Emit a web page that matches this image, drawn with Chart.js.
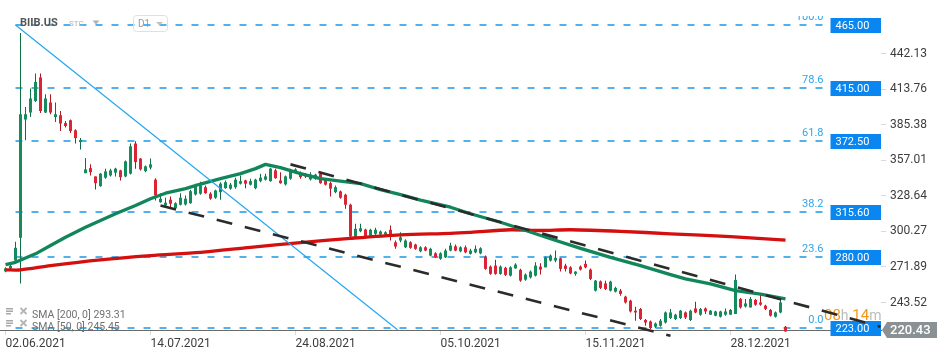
<!DOCTYPE html>
<html><head><meta charset="utf-8">
<script src="https://cdn.jsdelivr.net/npm/chart.js@4.4.1/dist/chart.umd.min.js"></script>
<style>html,body{margin:0;padding:0;background:#fff;}canvas{display:block;}</style>
</head><body>
<canvas id="c" width="950" height="361"></canvas>
<script>
// ---- data (BIIB.US, D1) ----
const openV = [268.4,270.6,277.0,295.2,389.6,395.2,404.4,423.2,395.2,403.2,
391.6,393.0,386.8,389.0,381.0,371.6,346.8,350.8,344.2,336.4,
343.2,345.0,347.2,349.0,344.2,346.4,370.4,358.4,348.4,351.2,
341.6,323.6,321.0,325.6,318.8,321.6,321.8,322.8,329.8,330.4,
335.6,330.4,327.2,331.6,334.8,334.4,335.6,338.4,341.0,337.6,
334.8,340.4,341.6,340.4,349.0,341.0,337.8,342.4,347.2,347.2,
345.6,341.8,342.4,346.4,342.4,338.8,331.6,332.2,329.6,321.6,
295.6,300.4,301.8,297.0,298.4,297.8,297.6,301.6,291.6,293.0,
287.6,291.6,289.8,284.4,287.6,281.0,282.8,278.4,279.6,285.0,
288.4,284.4,287.6,282.4,283.6,282.8,280.2,272.2,273.0,266.4,
271.2,265.0,270.8,269.6,261.8,263.6,265.0,272.2,271.6,277.0,
277.0,278.8,273.0,271.6,266.4,272.2,274.4,269.8,253.0,260.4,
258.8,253.0,252.2,253.0,248.2,245.0,237.0,238.4,229.6,228.4,
224.2,225.0,227.6,231.2,230.4,231.2,235.6,229.6,238.8,233.8,
238.8,233.8,233.0,232.2,233.8,233.8,234.4,246.4,240.4,239.6,
245.6,243.6,241.0,237.6,232.2,235.6,224.2];
const highV = [271.6,273.8,292.0,458.6,399.6,414.4,426.4,426.4,409.8,409.8,
403.2,396.4,388.4,389.6,381.8,374.8,358.8,353.8,344.2,347.0,
350.4,350.4,351.2,349.6,356.8,370.4,372.2,358.8,353.0,358.4,
342.8,330.8,327.2,328.2,323.6,330.8,329.0,333.6,338.4,340.0,
337.0,331.6,333.6,339.6,341.0,339.0,343.2,345.0,341.6,342.4,
342.4,346.4,346.4,351.2,350.4,347.6,345.0,350.4,350.8,348.2,
347.0,347.6,346.4,347.2,343.0,340.0,337.0,333.0,330.4,322.4,
306.4,306.4,302.4,302.4,303.2,301.0,300.4,305.0,293.0,299.6,
294.0,292.4,290.4,288.4,288.4,287.2,283.6,283.6,286.4,291.2,
289.8,288.4,289.0,286.4,289.0,287.6,281.0,273.0,277.6,273.0,
272.0,272.4,274.8,270.4,266.6,269.0,275.6,274.8,280.2,281.8,
285.0,279.2,274.4,272.4,268.4,273.0,277.0,270.6,261.6,261.2,
261.0,261.0,256.2,254.4,249.0,245.8,240.2,239.2,230.4,229.2,
227.6,230.4,236.4,238.4,234.6,237.6,236.4,237.8,244.2,239.2,
239.6,237.6,237.0,237.0,238.8,238.4,265.8,247.2,246.4,248.0,
246.4,249.6,241.8,238.4,236.4,245.6,224.8];
const lowV = [267.6,269.8,274.8,258.8,373.0,391.6,403.6,394.8,394.8,393.8,
387.6,380.4,383.2,378.8,370.4,365.6,346.8,345.0,333.8,336.0,
342.4,344.2,344.2,341.0,343.6,345.8,350.4,349.0,347.6,349.8,
325.0,323.2,319.6,318.8,318.4,321.0,321.0,322.4,329.0,329.5,
330.4,325.6,326.4,325.6,334.4,333.5,334.4,337.8,334.8,337.0,
334.0,339.6,341.0,340.0,342.4,338.4,337.0,341.6,346.4,342.4,
343.0,341.0,341.6,338.4,337.0,328.2,330.8,326.4,318.4,295.6,
295.0,299.6,295.0,296.4,297.0,297.0,297.0,293.0,286.4,291.6,
287.0,286.4,285.6,283.6,284.4,280.4,279.0,277.6,279.0,284.4,
284.4,283.6,282.8,281.8,282.8,282.0,269.6,265.6,265.6,265.6,
264.8,264.4,270.4,260.2,261.0,262.8,264.4,265.8,271.6,276.2,
275.6,268.2,268.2,266.0,265.0,269.0,270.8,261.6,252.4,254.4,
253.6,252.4,251.6,249.0,242.8,235.6,229.0,229.6,225.0,222.4,
223.2,224.2,226.8,230.4,229.6,230.4,230.4,228.8,235.0,233.0,
234.4,233.8,232.6,231.6,233.0,233.8,234.4,238.8,239.6,239.6,
241.0,241.0,237.6,232.4,231.6,235.0,220.2];
const closeV = [270.8,272.8,287.2,393.8,393.8,406.4,419.6,396.4,406.4,395.2,
393.8,386.4,384.4,380.4,374.8,373.2,349.8,347.6,338.8,346.4,
348.2,349.0,350.4,343.6,356.2,368.2,355.6,349.8,352.2,353.8,
329.0,326.4,323.2,322.4,322.8,327.2,326.4,332.4,336.2,337.0,
330.8,326.4,333.0,338.4,339.6,337.6,341.6,340.4,338.4,340.4,
341.6,343.2,344.2,350.4,342.8,338.8,344.2,349.0,349.8,343.6,
344.2,345.6,345.6,338.8,337.6,334.4,335.6,327.2,321.6,296.2,
302.4,302.8,295.6,301.6,301.6,300.2,299.6,297.0,288.2,295.6,
293.0,287.2,286.4,287.6,285.0,286.4,279.6,282.8,285.0,289.0,
285.0,287.6,283.6,285.0,286.4,286.8,270.4,266.4,266.4,272.2,
265.6,271.6,273.8,261.0,265.8,268.2,273.0,269.8,279.6,281.0,
279.2,270.4,270.4,266.8,268.2,269.8,271.6,262.4,261.0,255.2,
254.4,260.2,255.2,250.4,243.6,236.4,235.6,230.4,227.6,223.2,
226.8,229.0,235.6,235.6,233.8,237.0,231.6,237.0,235.6,238.4,
236.4,237.0,236.4,236.4,236.4,237.6,261.6,239.6,242.8,246.4,
241.8,241.8,238.4,233.0,235.6,243.6,220.43];

const sma50Idx = [0,2,6,9,12,16,19,22,26,29,32,36,39,43,47,50,52,55,59,63,67,71,75,79,83,89,93,99,103,109,115,121,127,133,136,141,146,151,156];
const sma50Val = [273.8,275.6,282.4,289,295.6,303.6,309,314.4,321,326.4,330.8,334.4,338.1,342.4,346.4,350.4,353.8,351.2,346.4,342.4,340.4,338.4,333.6,329.6,325.3,319.6,314.4,307.6,302.4,294.4,286.8,279.6,273,265.8,262.4,258.4,253,250.2,246.5];
const sma200Idx = [0,3,9,19,29,39,49,59,69,79,89,93,101,107,113,123,133,145,156];
const sma200Val = [269.6,269.6,273,277.6,281,283.6,287.6,291.4,294.8,297.6,298.8,299.6,301.6,301,301.6,300.4,298.4,296.2,293.31];

const xTickIndex = [0,29,58,87,116,145];
const xTickLabels = ['02.06.2021','14.07.2021','24.08.2021','05.10.2021','15.11.2021','28.12.2021'];
const yTickValues = [243.52,271.89,300.27,328.64,357.01,385.38,413.76,442.13];

const fibLevels = [465,415,372.5,315.6,280,223];
const fibLabels = ['100.0','78.6','61.8','38.2','23.6','0.0'];
const fibFrom = 2, fibTo = 163.6;
const fibDiag = [[2,465],[78.4,221.8]];
const trendUpper = [[57,353.8],[175,224.2]];
const trendLower = [[31,321],[133,217]];
const lastPrice = 220.43;
const smaLegend = ['SMA [200, 0] 293.31','SMA [50, 0] 245.45'];
const symbol = 'BIIB.US', symType = 'STC', timeframe = 'D1';

// ---- build ----
const FONT = 'Roboto, "Noto Sans", Arial, sans-serif';
const GREEN = '#168c5c', GREEN_D = '#0e6f47', RED = '#dd2434', RED_D = '#b3141f';
const up = i => closeV[i] >= openV[i];
const bodies = openV.map((o,i)=>({x:i, y:[o, closeV[i]]}));
const wicks = lowV.map((l,i)=>({x:i, y:[l, highV[i]]}));
const pts = (xs, ys) => xs.map((v,i)=>({x:v, y:ys[i]}));
const seg = a => a.map(p=>({x:p[0], y:p[1]}));

const overlay = {
  id:'overlay',
  beforeDatasetsDraw(chart){
    const {ctx, scales:{x,y}} = chart;
    ctx.save();
    // fib dashed levels
    ctx.strokeStyle = '#1898e6'; ctx.lineWidth = 1.4; ctx.setLineDash([7,9]);
    const x0 = x.getPixelForValue(fibFrom), x1 = x.getPixelForValue(fibTo);
    fibLevels.forEach(v=>{
      const py = Math.round(y.getPixelForValue(v));
      ctx.beginPath(); ctx.moveTo(x0,py); ctx.lineTo(x1,py); ctx.stroke();
    });
    ctx.setLineDash([]);
    // fib level labels
    fibLevels.forEach((v,k)=>{
      const py = Math.round(y.getPixelForValue(v));
      ctx.save();
      if (k===0){ ctx.beginPath(); ctx.rect(0,16,950,60); ctx.clip(); }
      ctx.fillStyle = '#2ea6ea'; ctx.font = '11px '+FONT;
      ctx.textAlign = 'right'; ctx.textBaseline = 'alphabetic';
      ctx.fillText(fibLabels[k], x1, py-5);
      ctx.restore();
    });
    // countdown text
    const pyz = Math.round(y.getPixelForValue(fibLevels[5]));
    ctx.textBaseline = 'alphabetic'; ctx.textAlign = 'left';
    let cx = 824;
    const parts = [['08','#f39a1e','15px'],['h','#bdbdbd','14px'],[' 14','#f39a1e','15px'],['m','#bdbdbd','14px']];
    parts.forEach(p=>{ ctx.font = p[2]+' '+FONT; ctx.fillStyle = p[1]; ctx.fillText(p[0], cx, pyz-8); cx += ctx.measureText(p[0]).width; });
    // fib value boxes
    const bx = x1+7, bw = chart.chartArea.right - bx;
    fibLevels.forEach(v=>{
      const py = Math.round(y.getPixelForValue(v));
      ctx.fillStyle = '#0a86f0'; ctx.fillRect(bx, py-7, bw, 15);
      ctx.fillStyle = '#fff'; ctx.font = '11px '+FONT; ctx.textAlign='left'; ctx.textBaseline='middle';
      ctx.fillText(v.toFixed(2), bx+5, py+1);
    });
    ctx.restore();
  },
  afterDraw(chart){
    const {ctx, scales:{x,y}} = chart;
    ctx.save();
    // last price box
    const pp = Math.round(y.getPixelForValue(lastPrice))-1;
    const ax = chart.chartArea.right+1;
    ctx.fillStyle = '#8a9195';
    ctx.beginPath(); ctx.moveTo(ax, pp); ctx.lineTo(ax+5, pp-8); ctx.lineTo(937, pp-8); ctx.lineTo(937, pp+8); ctx.lineTo(ax+5, pp+8); ctx.closePath(); ctx.fill();
    ctx.fillStyle = '#fff'; ctx.font = '500 13px '+FONT; ctx.textAlign='left'; ctx.textBaseline='middle';
    ctx.fillText(lastPrice.toFixed(2), ax+8, pp+1);
    // header
    ctx.fillStyle = '#555'; ctx.font = 'bold 11px '+FONT; ctx.textBaseline='middle';
    ctx.fillText(symbol, 20, 23);
    ctx.fillStyle = '#b3b3b3'; ctx.font = '8px '+FONT; ctx.fillText(symType, 69, 24);
    ctx.fillStyle = '#b0b0b0';
    ctx.beginPath(); ctx.moveTo(92.5,20.5); ctx.lineTo(99.5,20.5); ctx.lineTo(96,24.5); ctx.closePath(); ctx.fill();
    ctx.strokeStyle = '#e0e0e0'; ctx.lineWidth = 1;
    ctx.beginPath(); ctx.roundRect(133.5, 15.5, 34, 16, 3); ctx.stroke();
    ctx.fillStyle = '#9a9a9a'; ctx.font = '10px '+FONT; ctx.fillText(timeframe, 138, 24);
    ctx.fillStyle = '#c0c0c0';
    ctx.beginPath(); ctx.moveTo(156,22); ctx.lineTo(163,22); ctx.lineTo(159.5,25.5); ctx.closePath(); ctx.fill();
    // SMA legend
    smaLegend.forEach((t,k)=>{
      const ry = 315 + k*12;
      ctx.fillStyle = '#a8a8a8';
      ctx.fillRect(6, ry-7, 7, 1.5); ctx.fillRect(6, ry-4.5, 7, 1.5); ctx.fillRect(6, ry-2, 5, 1.5);
      ctx.strokeStyle = '#b5b5b5'; ctx.lineWidth = 1.8;
      ctx.beginPath(); ctx.moveTo(20.5, ry-7); ctx.lineTo(26.5, ry-1); ctx.moveTo(26.5, ry-7); ctx.lineTo(20.5, ry-1); ctx.stroke();
      ctx.fillStyle = '#707070'; ctx.font = '10.5px '+FONT; ctx.textAlign='left'; ctx.textBaseline='middle';
      ctx.fillText(t, 32, ry);
    });
    ctx.restore();
  }
};

new Chart(document.getElementById('c'), {
  type: 'bar',
  data: {
    datasets: [
      {type:'line', data: seg(trendUpper), borderColor:'#2b2b2b', borderWidth:2.6, borderDash:[16,13], pointRadius:0, order:1, clip:false},
      {type:'line', data: seg(trendLower), borderColor:'#2b2b2b', borderWidth:2.6, borderDash:[16,13], pointRadius:0, order:1, clip:false},
      {type:'line', data: seg(fibDiag), borderColor:'#22a6f0', borderWidth:1.2, pointRadius:0, order:2},
      {type:'line', data: pts(sma50Idx, sma50Val), borderColor:'#10865a', borderWidth:3.3, pointRadius:0, tension:0, borderJoinStyle:'round', order:3},
      {type:'line', data: pts(sma200Idx, sma200Val), borderColor:'#d40f0f', borderWidth:3.3, pointRadius:0, tension:0.3, order:4},
      {data: bodies, grouped:false, maxBarThickness:3, minBarLength:1, borderWidth:0, borderSkipped:false,
       backgroundColor: c => up(c.dataIndex) ? GREEN : RED, order:9, clip:false},
      {data: wicks, grouped:false, maxBarThickness:1, borderWidth:0, borderSkipped:false,
       backgroundColor: c => up(c.dataIndex) ? GREEN_D : RED_D, order:10, clip:false}
    ]
  },
  options: {
    responsive:false, animation:false, events:[],
    layout:{padding:0},
    plugins:{legend:{display:false}, tooltip:{enabled:false}},
    scales:{
      x:{type:'linear', position:'bottom', min:-1.1, max:175.1, offset:false,
        afterBuildTicks: s => { s.ticks = xTickIndex.map(v=>({value:v})); },
        afterFit: s => { s.height = 31; s.paddingLeft = 0; s.paddingRight = 0; },
        ticks:{autoSkip:false, maxRotation:0, align:'start', padding:2, color:'#3d3d3d', font:{family:FONT, size:12},
          callback: v => xTickLabels[xTickIndex.indexOf(v)] || ''},
        grid:{offset:false, drawOnChartArea:false, drawTicks:true, tickLength:5, color:'#d9d9d9'},
        border:{display:true, color:'#6a6a6a', width:1}
      },
      y:{type:'linear', position:'right', min:221.6, max:485,
        afterBuildTicks: s => { s.ticks = yTickValues.map(v=>({value:v})); },
        afterFit: s => { s.width = 69; s.paddingTop = 0; s.paddingBottom = 0; },
        ticks:{padding:4, color:'#3d3d3d', font:{family:FONT, size:12}, callback: v => Number(v).toFixed(2)},
        grid:{drawOnChartArea:false, drawTicks:true, tickLength:5, color:'#d9d9d9'},
        border:{display:false}
      }
    }
  },
  plugins:[overlay]
});
</script>
</body></html>
